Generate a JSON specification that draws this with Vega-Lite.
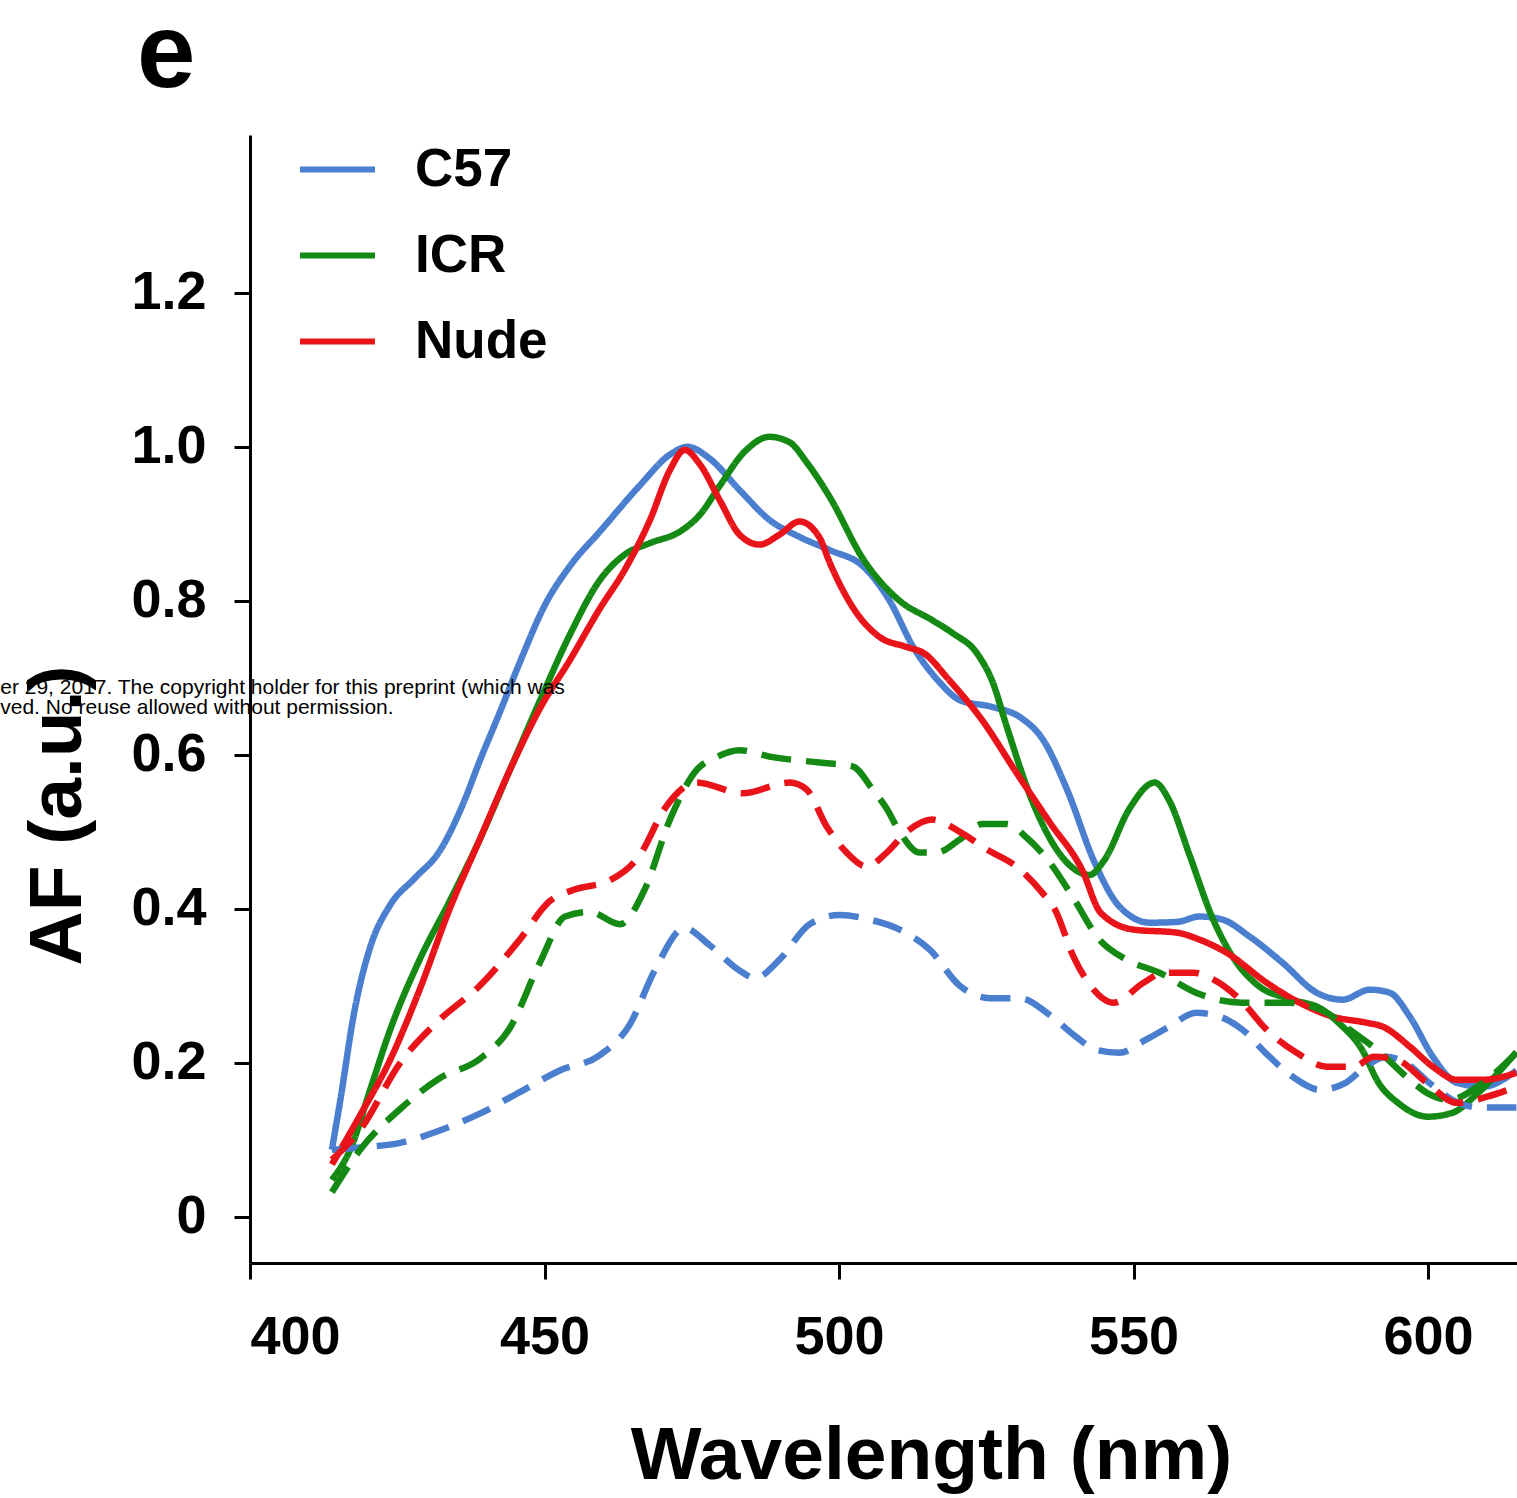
{
"$schema": "https://vega.github.io/schema/vega-lite/v6.json",
"width": 1267, "height": 1128,
"autosize": {"type": "none"},
"padding": {"left": 250, "top": 135, "right": 0, "bottom": 235},
"background": "white",
"title": {"text": "e", "anchor": "start", "frame": "group", "fontSize": 105, "fontWeight": "bold", "font": "Liberation Sans", "color": "black", "dx": -113, "offset": -63, "baseline": "alphabetic"},
"config": {
  "view": {"stroke": null},
  "axis": {"grid": false, "domainColor": "black", "domainWidth": 3, "tickColor": "black", "tickWidth": 3, "tickSize": 16,
    "labelFont": "Liberation Sans", "labelFontWeight": "bold", "labelFontSize": 54, "labelColor": "black",
    "titleFont": "Liberation Sans", "titleFontWeight": "bold", "titleFontSize": 75, "titleColor": "black"}
},
"layer": [
{
"data": {"values": [
{"strain":"C57","line":"solid","nm":413.9,"af":0.087},{"strain":"C57","line":"solid","nm":415.3,"af":0.15},{"strain":"C57","line":"solid","nm":417.8,"af":0.27},{"strain":"C57","line":"solid","nm":420.4,"af":0.35},{"strain":"C57","line":"solid","nm":423.8,"af":0.405},{"strain":"C57","line":"solid","nm":428,"af":0.44},{"strain":"C57","line":"solid","nm":432.2,"af":0.475},{"strain":"C57","line":"solid","nm":436.1,"af":0.535},{"strain":"C57","line":"solid","nm":439,"af":0.592},{"strain":"C57","line":"solid","nm":442.4,"af":0.655},{"strain":"C57","line":"solid","nm":445.8,"af":0.72},{"strain":"C57","line":"solid","nm":450.1,"af":0.795},{"strain":"C57","line":"solid","nm":454.3,"af":0.845},{"strain":"C57","line":"solid","nm":459.4,"af":0.89},{"strain":"C57","line":"solid","nm":466.2,"af":0.95},{"strain":"C57","line":"solid","nm":471.3,"af":0.99},{"strain":"C57","line":"solid","nm":474.3,"af":1.0},{"strain":"C57","line":"solid","nm":478,"af":0.985},{"strain":"C57","line":"solid","nm":483.1,"af":0.944},{"strain":"C57","line":"solid","nm":488.2,"af":0.905},{"strain":"C57","line":"solid","nm":493.3,"af":0.883},{"strain":"C57","line":"solid","nm":498.4,"af":0.866},{"strain":"C57","line":"solid","nm":504.2,"af":0.844},{"strain":"C57","line":"solid","nm":508.6,"af":0.80},{"strain":"C57","line":"solid","nm":512.6,"af":0.74},{"strain":"C57","line":"solid","nm":517.1,"af":0.694},{"strain":"C57","line":"solid","nm":520.5,"af":0.671},{"strain":"C57","line":"solid","nm":526.1,"af":0.662},{"strain":"C57","line":"solid","nm":530.7,"af":0.649},{"strain":"C57","line":"solid","nm":534.6,"af":0.62},{"strain":"C57","line":"solid","nm":538.7,"af":0.555},{"strain":"C57","line":"solid","nm":543.4,"af":0.46},{"strain":"C57","line":"solid","nm":547.6,"af":0.403},{"strain":"C57","line":"solid","nm":552.8,"af":0.382},{"strain":"C57","line":"solid","nm":557.4,"af":0.383},{"strain":"C57","line":"solid","nm":561.2,"af":0.39},{"strain":"C57","line":"solid","nm":565.1,"af":0.386},{"strain":"C57","line":"solid","nm":569.7,"af":0.364},{"strain":"C57","line":"solid","nm":575.3,"af":0.33},{"strain":"C57","line":"solid","nm":581.1,"af":0.291},{"strain":"C57","line":"solid","nm":585.5,"af":0.282},{"strain":"C57","line":"solid","nm":590.1,"af":0.295},{"strain":"C57","line":"solid","nm":593.5,"af":0.291},{"strain":"C57","line":"solid","nm":596.9,"af":0.26},{"strain":"C57","line":"solid","nm":600.8,"af":0.208},{"strain":"C57","line":"solid","nm":604.9,"af":0.174},{"strain":"C57","line":"solid","nm":609.3,"af":0.169},{"strain":"C57","line":"solid","nm":615,"af":0.19},
{"strain":"ICR","line":"solid","nm":413.9,"af":0.048},{"strain":"ICR","line":"solid","nm":417,"af":0.087},{"strain":"ICR","line":"solid","nm":420.4,"af":0.165},{"strain":"ICR","line":"solid","nm":423.8,"af":0.243},{"strain":"ICR","line":"solid","nm":428.8,"af":0.334},{"strain":"ICR","line":"solid","nm":433.9,"af":0.41},{"strain":"ICR","line":"solid","nm":439,"af":0.49},{"strain":"ICR","line":"solid","nm":444.1,"af":0.58},{"strain":"ICR","line":"solid","nm":449.2,"af":0.67},{"strain":"ICR","line":"solid","nm":454.3,"af":0.756},{"strain":"ICR","line":"solid","nm":459.4,"af":0.827},{"strain":"ICR","line":"solid","nm":463.6,"af":0.86},{"strain":"ICR","line":"solid","nm":467.9,"af":0.875},{"strain":"ICR","line":"solid","nm":473,"af":0.89},{"strain":"ICR","line":"solid","nm":476.4,"af":0.912},{"strain":"ICR","line":"solid","nm":479.8,"af":0.95},{"strain":"ICR","line":"solid","nm":484,"af":0.994},{"strain":"ICR","line":"solid","nm":488.2,"af":1.013},{"strain":"ICR","line":"solid","nm":491.6,"af":1.006},{"strain":"ICR","line":"solid","nm":494.5,"af":0.98},{"strain":"ICR","line":"solid","nm":498.4,"af":0.935},{"strain":"ICR","line":"solid","nm":504.2,"af":0.853},{"strain":"ICR","line":"solid","nm":510.3,"af":0.80},{"strain":"ICR","line":"solid","nm":515.8,"af":0.775},{"strain":"ICR","line":"solid","nm":519.3,"af":0.758},{"strain":"ICR","line":"solid","nm":523.4,"af":0.732},{"strain":"ICR","line":"solid","nm":526.1,"af":0.694},{"strain":"ICR","line":"solid","nm":528.5,"af":0.636},{"strain":"ICR","line":"solid","nm":532.9,"af":0.538},{"strain":"ICR","line":"solid","nm":538.7,"af":0.46},{"strain":"ICR","line":"solid","nm":542.5,"af":0.444},{"strain":"ICR","line":"solid","nm":545.1,"af":0.464},{"strain":"ICR","line":"solid","nm":549.3,"af":0.53},{"strain":"ICR","line":"solid","nm":553.6,"af":0.564},{"strain":"ICR","line":"solid","nm":556.1,"af":0.54},{"strain":"ICR","line":"solid","nm":559.5,"af":0.47},{"strain":"ICR","line":"solid","nm":563.3,"af":0.39},{"strain":"ICR","line":"solid","nm":566.8,"af":0.338},{"strain":"ICR","line":"solid","nm":571.2,"af":0.30},{"strain":"ICR","line":"solid","nm":577,"af":0.282},{"strain":"ICR","line":"solid","nm":582.1,"af":0.269},{"strain":"ICR","line":"solid","nm":584.8,"af":0.252},{"strain":"ICR","line":"solid","nm":588.8,"af":0.217},{"strain":"ICR","line":"solid","nm":591.6,"af":0.174},{"strain":"ICR","line":"solid","nm":594.9,"af":0.148},{"strain":"ICR","line":"solid","nm":600,"af":0.13},{"strain":"ICR","line":"solid","nm":604.1,"af":0.135},{"strain":"ICR","line":"solid","nm":608.5,"af":0.161},{"strain":"ICR","line":"solid","nm":615,"af":0.214},
{"strain":"Nude","line":"solid","nm":413.9,"af":0.068},{"strain":"Nude","line":"solid","nm":418.7,"af":0.132},{"strain":"Nude","line":"solid","nm":423.8,"af":0.204},{"strain":"Nude","line":"solid","nm":428.8,"af":0.295},{"strain":"Nude","line":"solid","nm":433.9,"af":0.40},{"strain":"Nude","line":"solid","nm":439,"af":0.49},{"strain":"Nude","line":"solid","nm":444.1,"af":0.58},{"strain":"Nude","line":"solid","nm":449.2,"af":0.66},{"strain":"Nude","line":"solid","nm":454.3,"af":0.723},{"strain":"Nude","line":"solid","nm":459.4,"af":0.79},{"strain":"Nude","line":"solid","nm":463.6,"af":0.84},{"strain":"Nude","line":"solid","nm":467.9,"af":0.905},{"strain":"Nude","line":"solid","nm":471.3,"af":0.97},{"strain":"Nude","line":"solid","nm":473.8,"af":0.996},{"strain":"Nude","line":"solid","nm":476.4,"af":0.977},{"strain":"Nude","line":"solid","nm":479.8,"af":0.93},{"strain":"Nude","line":"solid","nm":483.1,"af":0.886},{"strain":"Nude","line":"solid","nm":486.5,"af":0.873},{"strain":"Nude","line":"solid","nm":489.9,"af":0.886},{"strain":"Nude","line":"solid","nm":493.3,"af":0.903},{"strain":"Nude","line":"solid","nm":496.7,"af":0.882},{"strain":"Nude","line":"solid","nm":498.4,"af":0.85},{"strain":"Nude","line":"solid","nm":503,"af":0.784},{"strain":"Nude","line":"solid","nm":506.9,"af":0.753},{"strain":"Nude","line":"solid","nm":511.5,"af":0.74},{"strain":"Nude","line":"solid","nm":514.4,"af":0.732},{"strain":"Nude","line":"solid","nm":518.7,"af":0.697},{"strain":"Nude","line":"solid","nm":524.3,"af":0.645},{"strain":"Nude","line":"solid","nm":530.1,"af":0.577},{"strain":"Nude","line":"solid","nm":535.8,"af":0.512},{"strain":"Nude","line":"solid","nm":541.3,"af":0.45},{"strain":"Nude","line":"solid","nm":544.4,"af":0.395},{"strain":"Nude","line":"solid","nm":550,"af":0.373},{"strain":"Nude","line":"solid","nm":557.4,"af":0.369},{"strain":"Nude","line":"solid","nm":561.2,"af":0.36},{"strain":"Nude","line":"solid","nm":565.8,"af":0.343},{"strain":"Nude","line":"solid","nm":572.6,"af":0.304},{"strain":"Nude","line":"solid","nm":578.2,"af":0.278},{"strain":"Nude","line":"solid","nm":583.8,"af":0.26},{"strain":"Nude","line":"solid","nm":589.6,"af":0.252},{"strain":"Nude","line":"solid","nm":592.3,"af":0.247},{"strain":"Nude","line":"solid","nm":596.9,"af":0.221},{"strain":"Nude","line":"solid","nm":600.8,"af":0.195},{"strain":"Nude","line":"solid","nm":604.9,"af":0.178},{"strain":"Nude","line":"solid","nm":609.3,"af":0.178},{"strain":"Nude","line":"solid","nm":615,"af":0.187},
{"strain":"C57","line":"dashed","nm":413.9,"af":0.087},{"strain":"C57","line":"dashed","nm":418.7,"af":0.09},{"strain":"C57","line":"dashed","nm":425.5,"af":0.096},{"strain":"C57","line":"dashed","nm":432.2,"af":0.112},{"strain":"C57","line":"dashed","nm":439,"af":0.134},{"strain":"C57","line":"dashed","nm":445.8,"af":0.162},{"strain":"C57","line":"dashed","nm":452.6,"af":0.19},{"strain":"C57","line":"dashed","nm":459.4,"af":0.21},{"strain":"C57","line":"dashed","nm":464.5,"af":0.25},{"strain":"C57","line":"dashed","nm":468.7,"af":0.32},{"strain":"C57","line":"dashed","nm":473.8,"af":0.375},{"strain":"C57","line":"dashed","nm":478,"af":0.353},{"strain":"C57","line":"dashed","nm":483.1,"af":0.32},{"strain":"C57","line":"dashed","nm":485.7,"af":0.31},{"strain":"C57","line":"dashed","nm":489.9,"af":0.334},{"strain":"C57","line":"dashed","nm":495,"af":0.38},{"strain":"C57","line":"dashed","nm":500.1,"af":0.392},{"strain":"C57","line":"dashed","nm":505.2,"af":0.386},{"strain":"C57","line":"dashed","nm":510.3,"af":0.373},{"strain":"C57","line":"dashed","nm":515.4,"af":0.347},{"strain":"C57","line":"dashed","nm":520.5,"af":0.30},{"strain":"C57","line":"dashed","nm":525.6,"af":0.284},{"strain":"C57","line":"dashed","nm":530.7,"af":0.284},{"strain":"C57","line":"dashed","nm":535.8,"af":0.262},{"strain":"C57","line":"dashed","nm":540.2,"af":0.234},{"strain":"C57","line":"dashed","nm":543.6,"af":0.217},{"strain":"C57","line":"dashed","nm":547.6,"af":0.213},{"strain":"C57","line":"dashed","nm":552.1,"af":0.23},{"strain":"C57","line":"dashed","nm":556.1,"af":0.247},{"strain":"C57","line":"dashed","nm":560.6,"af":0.265},{"strain":"C57","line":"dashed","nm":564.6,"af":0.26},{"strain":"C57","line":"dashed","nm":568.5,"af":0.243},{"strain":"C57","line":"dashed","nm":572.4,"af":0.213},{"strain":"C57","line":"dashed","nm":577,"af":0.182},{"strain":"C57","line":"dashed","nm":581.6,"af":0.165},{"strain":"C57","line":"dashed","nm":586,"af":0.174},{"strain":"C57","line":"dashed","nm":589.4,"af":0.195},{"strain":"C57","line":"dashed","nm":592.8,"af":0.208},{"strain":"C57","line":"dashed","nm":596.2,"af":0.2},{"strain":"C57","line":"dashed","nm":600.2,"af":0.174},{"strain":"C57","line":"dashed","nm":604.1,"af":0.152},{"strain":"C57","line":"dashed","nm":608.7,"af":0.142},{"strain":"C57","line":"dashed","nm":615,"af":0.142},
{"strain":"ICR","line":"dashed","nm":413.9,"af":0.032},{"strain":"ICR","line":"dashed","nm":418.7,"af":0.087},{"strain":"ICR","line":"dashed","nm":425.5,"af":0.14},{"strain":"ICR","line":"dashed","nm":432.2,"af":0.18},{"strain":"ICR","line":"dashed","nm":439,"af":0.205},{"strain":"ICR","line":"dashed","nm":444.1,"af":0.245},{"strain":"ICR","line":"dashed","nm":449.2,"af":0.33},{"strain":"ICR","line":"dashed","nm":453.5,"af":0.39},{"strain":"ICR","line":"dashed","nm":457.7,"af":0.396},{"strain":"ICR","line":"dashed","nm":462.8,"af":0.38},{"strain":"ICR","line":"dashed","nm":467,"af":0.425},{"strain":"ICR","line":"dashed","nm":471.3,"af":0.516},{"strain":"ICR","line":"dashed","nm":475.8,"af":0.58},{"strain":"ICR","line":"dashed","nm":479.2,"af":0.597},{"strain":"ICR","line":"dashed","nm":483.1,"af":0.606},{"strain":"ICR","line":"dashed","nm":488.7,"af":0.597},{"strain":"ICR","line":"dashed","nm":496.7,"af":0.59},{"strain":"ICR","line":"dashed","nm":502.3,"af":0.585},{"strain":"ICR","line":"dashed","nm":505.7,"af":0.555},{"strain":"ICR","line":"dashed","nm":508.1,"af":0.53},{"strain":"ICR","line":"dashed","nm":510.3,"af":0.50},{"strain":"ICR","line":"dashed","nm":513.7,"af":0.473},{"strain":"ICR","line":"dashed","nm":516.5,"af":0.473},{"strain":"ICR","line":"dashed","nm":520.5,"af":0.49},{"strain":"ICR","line":"dashed","nm":524.3,"af":0.51},{"strain":"ICR","line":"dashed","nm":528.4,"af":0.51},{"strain":"ICR","line":"dashed","nm":532.2,"af":0.49},{"strain":"ICR","line":"dashed","nm":535.8,"af":0.46},{"strain":"ICR","line":"dashed","nm":539.7,"af":0.415},{"strain":"ICR","line":"dashed","nm":544.2,"af":0.36},{"strain":"ICR","line":"dashed","nm":548.8,"af":0.334},{"strain":"ICR","line":"dashed","nm":554.4,"af":0.317},{"strain":"ICR","line":"dashed","nm":560.6,"af":0.291},{"strain":"ICR","line":"dashed","nm":568.5,"af":0.278},{"strain":"ICR","line":"dashed","nm":576.5,"af":0.278},{"strain":"ICR","line":"dashed","nm":582.8,"af":0.265},{"strain":"ICR","line":"dashed","nm":586.7,"af":0.243},{"strain":"ICR","line":"dashed","nm":591.3,"af":0.217},{"strain":"ICR","line":"dashed","nm":596.9,"af":0.178},{"strain":"ICR","line":"dashed","nm":599.8,"af":0.161},{"strain":"ICR","line":"dashed","nm":603.6,"af":0.152},{"strain":"ICR","line":"dashed","nm":609.3,"af":0.174},{"strain":"ICR","line":"dashed","nm":615,"af":0.213},
{"strain":"Nude","line":"dashed","nm":413.9,"af":0.074},{"strain":"Nude","line":"dashed","nm":418.7,"af":0.113},{"strain":"Nude","line":"dashed","nm":425.5,"af":0.2},{"strain":"Nude","line":"dashed","nm":432.2,"af":0.256},{"strain":"Nude","line":"dashed","nm":439,"af":0.30},{"strain":"Nude","line":"dashed","nm":445.8,"af":0.36},{"strain":"Nude","line":"dashed","nm":450.9,"af":0.41},{"strain":"Nude","line":"dashed","nm":455.1,"af":0.425},{"strain":"Nude","line":"dashed","nm":461.1,"af":0.437},{"strain":"Nude","line":"dashed","nm":466.2,"af":0.47},{"strain":"Nude","line":"dashed","nm":470.4,"af":0.53},{"strain":"Nude","line":"dashed","nm":475.8,"af":0.564},{"strain":"Nude","line":"dashed","nm":483.6,"af":0.55},{"strain":"Nude","line":"dashed","nm":491.6,"af":0.564},{"strain":"Nude","line":"dashed","nm":494.5,"af":0.555},{"strain":"Nude","line":"dashed","nm":497.9,"af":0.507},{"strain":"Nude","line":"dashed","nm":501.3,"af":0.473},{"strain":"Nude","line":"dashed","nm":504.7,"af":0.455},{"strain":"Nude","line":"dashed","nm":508.1,"af":0.473},{"strain":"Nude","line":"dashed","nm":511.5,"af":0.50},{"strain":"Nude","line":"dashed","nm":515.8,"af":0.516},{"strain":"Nude","line":"dashed","nm":520.5,"af":0.50},{"strain":"Nude","line":"dashed","nm":525.1,"af":0.477},{"strain":"Nude","line":"dashed","nm":530.1,"af":0.455},{"strain":"Nude","line":"dashed","nm":534.6,"af":0.42},{"strain":"Nude","line":"dashed","nm":536.6,"af":0.40},{"strain":"Nude","line":"dashed","nm":539.8,"af":0.338},{"strain":"Nude","line":"dashed","nm":542.7,"af":0.30},{"strain":"Nude","line":"dashed","nm":546.6,"af":0.278},{"strain":"Nude","line":"dashed","nm":551.7,"af":0.304},{"strain":"Nude","line":"dashed","nm":555.1,"af":0.317},{"strain":"Nude","line":"dashed","nm":560.2,"af":0.317},{"strain":"Nude","line":"dashed","nm":563.6,"af":0.308},{"strain":"Nude","line":"dashed","nm":568.1,"af":0.282},{"strain":"Nude","line":"dashed","nm":572.6,"af":0.243},{"strain":"Nude","line":"dashed","nm":577.7,"af":0.213},{"strain":"Nude","line":"dashed","nm":582.8,"af":0.195},{"strain":"Nude","line":"dashed","nm":587.4,"af":0.195},{"strain":"Nude","line":"dashed","nm":590.8,"af":0.208},{"strain":"Nude","line":"dashed","nm":594.7,"af":0.204},{"strain":"Nude","line":"dashed","nm":599.8,"af":0.174},{"strain":"Nude","line":"dashed","nm":604.9,"af":0.148},{"strain":"Nude","line":"dashed","nm":610,"af":0.156},{"strain":"Nude","line":"dashed","nm":615,"af":0.169}
]},
"mark": {"type": "line", "interpolate": "monotone", "strokeWidth": 6.5, "strokeCap": "butt", "clip": true},
"encoding": {
  "x": {"field": "nm", "type": "quantitative", "scale": {"domain": [400, 615.1], "nice": false, "zero": false},
    "axis": {"values": [400, 450, 500, 550, 600], "labelPadding": 31, "title": "Wavelength (nm)", "titleX": 681, "titleY": 215, "titleBaseline": "alphabetic", "titleAlign": "center"}},
  "y": {"field": "af", "type": "quantitative", "scale": {"domain": [-0.06, 1.405], "nice": false, "zero": false},
    "axis": {"values": [0, 0.2, 0.4, 0.6, 0.8, 1.0, 1.2], "labelExpr": "datum.value == 0 ? '0' : format(datum.value, '.1f')", "labelPadding": 28, "title": "AF (a.u.)", "titleAngle": -90, "titleX": -170, "titleY": 680, "titleAlign": "center", "titleBaseline": "alphabetic"}},
  "color": {"field": "strain", "type": "nominal", "scale": {"domain": ["C57", "ICR", "Nude"], "range": ["#4a7fd0", "#148a14", "#e8141a"]},
    "legend": {"title": null, "orient": "none", "legendX": 47, "legendY": -6, "symbolType": "stroke", "symbolSize": 5625, "symbolStrokeWidth": 6, "labelFont": "Liberation Sans", "labelFontWeight": "bold", "labelFontSize": 53, "labelColor": "black", "labelOffset": 37, "rowPadding": 18, "padding": 0}},
  "strokeDash": {"field": "line", "type": "nominal", "scale": {"domain": ["solid", "dashed"], "range": [[1, 0], [30, 15]]}, "legend": null}
}
},
{
"data": {"values": [{}]},
"mark": {"type": "text", "text": "er 29, 2017. The copyright holder for this preprint (which was", "align": "left", "baseline": "middle", "fontSize": 21, "font": "Liberation Sans", "color": "black"},
"encoding": {"x": {"datum": 357.6, "type": "quantitative"}, "y": {"datum": 0.687, "type": "quantitative"}}
},
{
"data": {"values": [{}]},
"mark": {"type": "text", "text": "ved. No reuse allowed without permission.", "align": "left", "baseline": "middle", "fontSize": 21, "font": "Liberation Sans", "color": "black"},
"encoding": {"x": {"datum": 357.6, "type": "quantitative"}, "y": {"datum": 0.661, "type": "quantitative"}}
}
]
}
